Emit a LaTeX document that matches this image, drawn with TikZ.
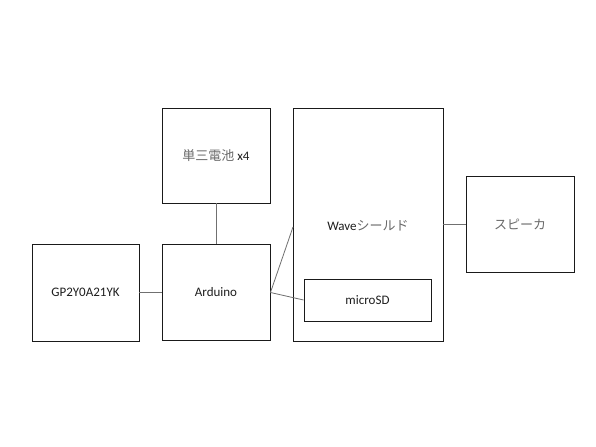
\documentclass[tikz,border=0pt]{standalone}
\usepackage{fontspec}
\setmainfont{Carlito}
\newfontfamily\jp{Noto Sans CJK JP}
\definecolor{boxline}{HTML}{1A1A1A}
\definecolor{wire}{HTML}{707070}
\definecolor{txt}{HTML}{1E1E1E}
\definecolor{jptxt}{HTML}{6A6A6A}
\newcommand{\J}[1]{{\jp\color{jptxt}#1}}
\begin{document}
\begin{tikzpicture}[x=1bp,y=-1bp,
  blockbox/.style={draw=boxline, line width=0.9bp, rectangle, inner sep=0pt,
    font=\fontsize{13bp}{15bp}\selectfont, text=txt},
  wireline/.style={draw=wire, line width=0.8bp}]
\useasboundingbox[fill=white] (0,0) rectangle (596,447);
\node[blockbox, minimum width=107bp, minimum height=97bp] (gp) at (85.5,292.5) {GP2Y0A21YK};
\node[blockbox, minimum width=108bp, minimum height=96bp] (ard) at (216,292.5) {Arduino};
\node[blockbox, minimum width=108bp, minimum height=95bp] (bat) at (216,155.5) {\J{単三電池} x4};
\node[blockbox, minimum width=150bp, minimum height=233bp] (wave) at (368,224.5) {};
\node[font=\fontsize{13bp}{15bp}\selectfont, text=txt, inner sep=0pt] (wavelbl) at (368,226) {Wave\J{シールド}};
\node[blockbox, minimum width=127bp, minimum height=42bp] (sd) at (367.5,300) {microSD};
\node[blockbox, minimum width=108bp, minimum height=96bp] (spk) at (520,224) {\J{スピーカ}};
\coordinate (wavein) at (293,227);
\draw[wireline] (gp.east) -- (ard.west);
\draw[wireline] (bat.south) -- (ard.north);
\draw[wireline] (ard.east) -- (wavein);
\draw[wireline] (ard.east) -- (sd.west);
\draw[wireline] (wave.east |- spk.west) -- (spk.west);
\end{tikzpicture}
\end{document}
